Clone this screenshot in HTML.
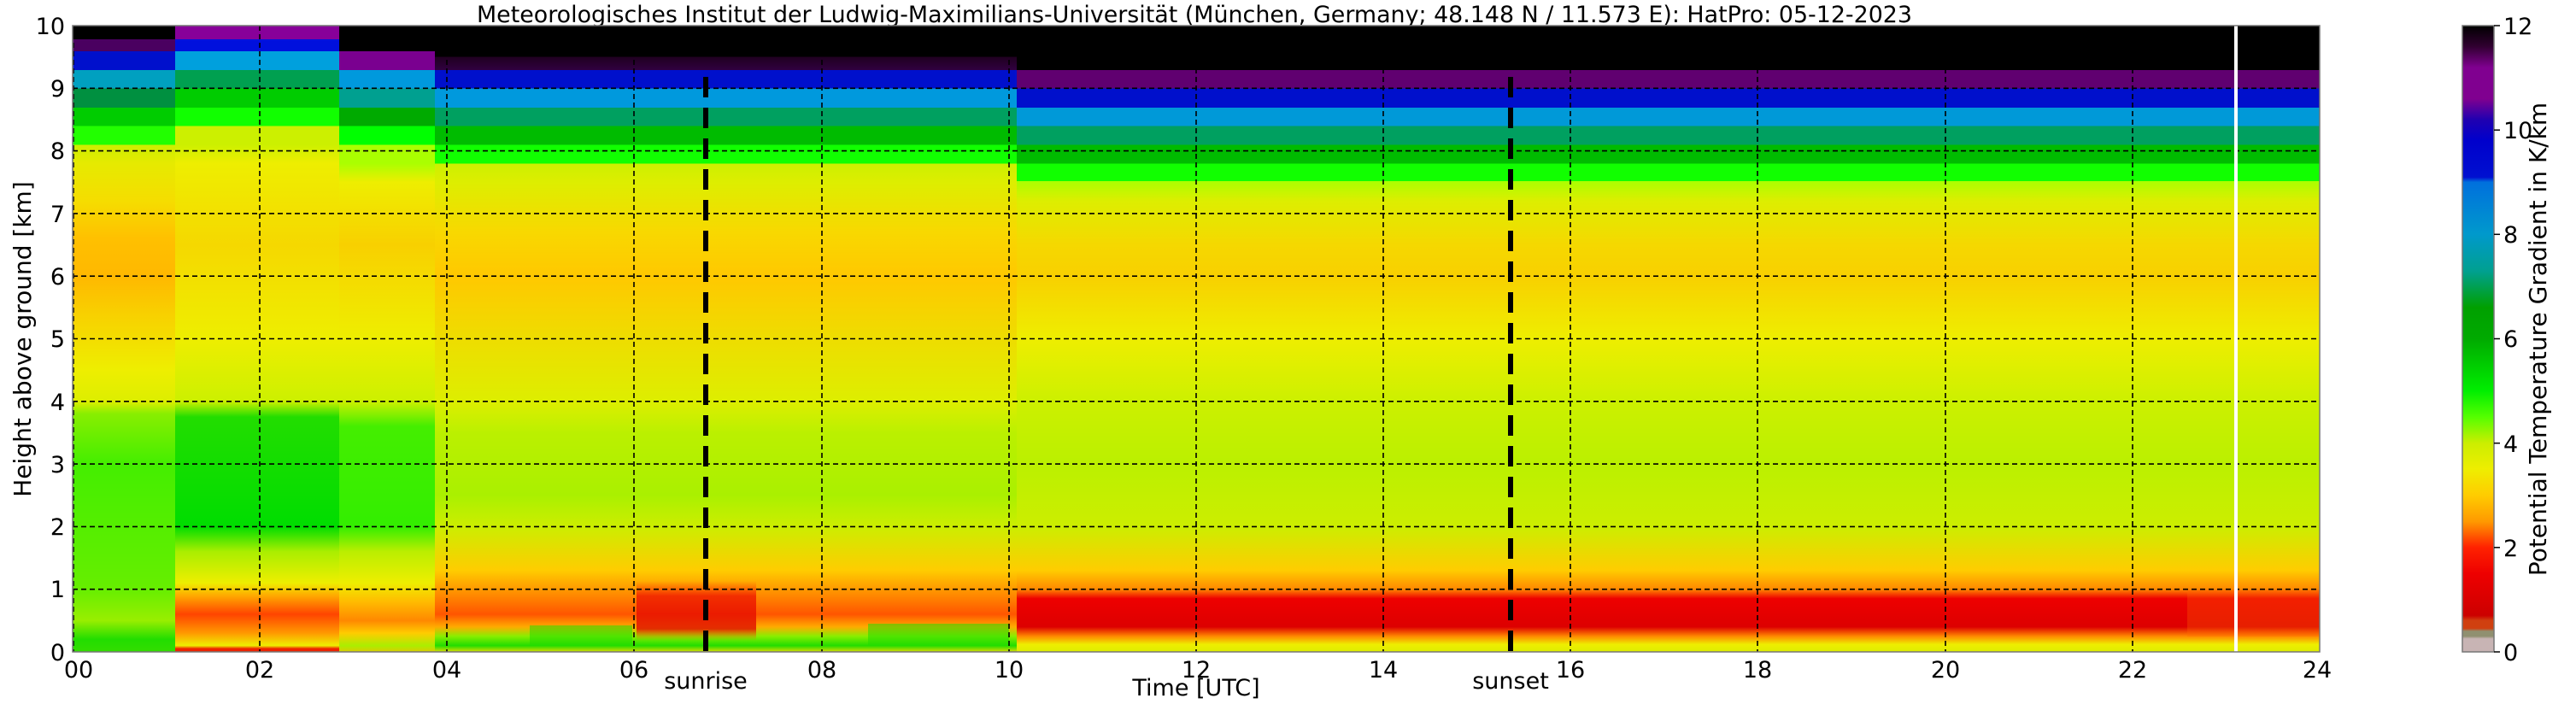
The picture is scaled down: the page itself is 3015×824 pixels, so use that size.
<!DOCTYPE html>
<html><head><meta charset="utf-8"><style>html,body{margin:0;padding:0;background:#fff}svg{display:block}text{font-family:"DejaVu Sans","Liberation Sans",sans-serif;fill:#000}</style></head><body>
<svg width="3015" height="824" viewBox="0 0 3015 824" xmlns="http://www.w3.org/2000/svg">
<defs>
<linearGradient id="gA" x1="0" y1="30" x2="0" y2="763" gradientUnits="userSpaceOnUse">
<stop offset="0" stop-color="#000"/><stop offset=".022" stop-color="#000"/><stop offset=".022" stop-color="#4a0060"/><stop offset=".041" stop-color="#4a0060"/><stop offset=".041" stop-color="#0010cc"/><stop offset=".071" stop-color="#0010cc"/><stop offset=".071" stop-color="#00a0c0"/><stop offset=".1" stop-color="#00a0c0"/><stop offset=".1" stop-color="#009040"/><stop offset=".131" stop-color="#009040"/><stop offset=".131" stop-color="#00cc00"/><stop offset=".16" stop-color="#00cc00"/><stop offset=".16" stop-color="#22ff00"/><stop offset=".19" stop-color="#22ff00"/><stop offset=".19" stop-color="#ccee00"/>
<stop offset=".22" stop-color="#e6ea00"/><stop offset=".28" stop-color="#f5dd00"/><stop offset=".34" stop-color="#ffc000"/><stop offset=".4" stop-color="#ffb800"/><stop offset=".46" stop-color="#f8d000"/><stop offset=".55" stop-color="#eeee00"/><stop offset=".6" stop-color="#ddee00"/><stop offset=".62" stop-color="#88ee00"/><stop offset=".7" stop-color="#44ee00"/><stop offset=".8" stop-color="#55ee00"/><stop offset=".9" stop-color="#66ee00"/><stop offset=".95" stop-color="#99ee00"/><stop offset=".98" stop-color="#22dd00"/><stop offset="1" stop-color="#33dd00"/>
</linearGradient>
<linearGradient id="gB1" x1="0" y1="30" x2="0" y2="763" gradientUnits="userSpaceOnUse">
<stop offset="0" stop-color="#880099"/><stop offset=".022" stop-color="#880099"/><stop offset=".022" stop-color="#0010dd"/><stop offset=".041" stop-color="#0010dd"/><stop offset=".041" stop-color="#00a0dd"/><stop offset=".071" stop-color="#00a0dd"/><stop offset=".071" stop-color="#00a050"/><stop offset=".1" stop-color="#00a050"/><stop offset=".1" stop-color="#00cc00"/><stop offset=".131" stop-color="#00cc00"/><stop offset=".131" stop-color="#11ff00"/><stop offset=".16" stop-color="#11ff00"/><stop offset=".16" stop-color="#ccf000"/><stop offset=".19" stop-color="#ccf000"/>
<stop offset=".22" stop-color="#eeee00"/><stop offset=".35" stop-color="#f5d800"/><stop offset=".5" stop-color="#eeee00"/><stop offset=".6" stop-color="#ccf000"/><stop offset=".625" stop-color="#22dd00"/><stop offset=".8" stop-color="#00dd00"/><stop offset=".84" stop-color="#aaee00"/><stop offset=".89" stop-color="#eeee00"/><stop offset=".91" stop-color="#ffaa00"/><stop offset=".94" stop-color="#ff4400"/><stop offset=".97" stop-color="#ff9900"/><stop offset=".99" stop-color="#eeee00"/><stop offset=".995" stop-color="#ee2200"/><stop offset="1" stop-color="#ee2200"/>
</linearGradient>
<linearGradient id="gB2" x1="0" y1="30" x2="0" y2="763" gradientUnits="userSpaceOnUse">
<stop offset="0" stop-color="#000"/><stop offset=".041" stop-color="#000"/><stop offset=".041" stop-color="#7a0090"/><stop offset=".071" stop-color="#7a0090"/><stop offset=".071" stop-color="#0099dd"/><stop offset=".1" stop-color="#0099dd"/><stop offset=".1" stop-color="#00a090"/><stop offset=".131" stop-color="#00a090"/><stop offset=".131" stop-color="#00aa00"/><stop offset=".16" stop-color="#00aa00"/><stop offset=".16" stop-color="#00ff00"/><stop offset=".19" stop-color="#00ff00"/><stop offset=".19" stop-color="#aaff00"/><stop offset=".22" stop-color="#aaff00"/>
<stop offset=".25" stop-color="#eeee00"/><stop offset=".35" stop-color="#f8d000"/><stop offset=".5" stop-color="#eeee00"/><stop offset=".6" stop-color="#ccf000"/><stop offset=".64" stop-color="#44ee00"/><stop offset=".8" stop-color="#33ee00"/><stop offset=".84" stop-color="#bbee00"/><stop offset=".89" stop-color="#eeee00"/><stop offset=".92" stop-color="#ffbb00"/><stop offset=".95" stop-color="#ff8800"/><stop offset=".97" stop-color="#ffcc00"/><stop offset=".99" stop-color="#aaee00"/><stop offset="1" stop-color="#ddcc00"/>
</linearGradient>
<linearGradient id="gC" x1="0" y1="30" x2="0" y2="763" gradientUnits="userSpaceOnUse">
<stop offset="0" stop-color="#000"/><stop offset=".05" stop-color="#000"/><stop offset=".05" stop-color="#200020"/><stop offset=".071" stop-color="#300040"/><stop offset=".071" stop-color="#0010cc"/><stop offset=".1" stop-color="#0010cc"/><stop offset=".1" stop-color="#0099dd"/><stop offset=".131" stop-color="#0099dd"/><stop offset=".131" stop-color="#00a060"/><stop offset=".16" stop-color="#00a060"/><stop offset=".16" stop-color="#00bb00"/><stop offset=".19" stop-color="#00bb00"/><stop offset=".19" stop-color="#11ff00"/><stop offset=".22" stop-color="#11ff00"/><stop offset=".22" stop-color="#ccf000"/>
<stop offset=".25" stop-color="#ddee00"/><stop offset=".33" stop-color="#f8d800"/><stop offset=".4" stop-color="#ffc800"/><stop offset=".5" stop-color="#eedd00"/><stop offset=".6" stop-color="#ddee00"/><stop offset=".65" stop-color="#bbf000"/><stop offset=".75" stop-color="#aaf000"/><stop offset=".8" stop-color="#ccee00"/><stop offset=".87" stop-color="#ffcc00"/><stop offset=".9" stop-color="#ff9900"/><stop offset=".94" stop-color="#ff5500"/><stop offset=".96" stop-color="#ffaa00"/><stop offset=".975" stop-color="#88ee00"/><stop offset=".99" stop-color="#22dd00"/><stop offset="1" stop-color="#dddd00"/>
</linearGradient>
<linearGradient id="gD" x1="0" y1="30" x2="0" y2="763" gradientUnits="userSpaceOnUse">
<stop offset="0" stop-color="#000"/><stop offset=".071" stop-color="#000"/><stop offset=".071" stop-color="#600070"/><stop offset=".1" stop-color="#600070"/><stop offset=".1" stop-color="#0010cc"/><stop offset=".131" stop-color="#0010cc"/><stop offset=".131" stop-color="#0099d8"/><stop offset=".16" stop-color="#0099d8"/><stop offset=".16" stop-color="#00a060"/><stop offset=".19" stop-color="#00a060"/><stop offset=".19" stop-color="#00bb00"/><stop offset=".22" stop-color="#00bb00"/><stop offset=".22" stop-color="#11ff00"/><stop offset=".248" stop-color="#11ff00"/><stop offset=".248" stop-color="#aaff00"/>
<stop offset=".28" stop-color="#ddee00"/><stop offset=".35" stop-color="#f5d800"/><stop offset=".4" stop-color="#f8d000"/><stop offset=".5" stop-color="#eeee00"/><stop offset=".6" stop-color="#ccf000"/><stop offset=".7" stop-color="#bbf000"/><stop offset=".8" stop-color="#ccee00"/><stop offset=".87" stop-color="#ffcc00"/><stop offset=".9" stop-color="#ff8800"/><stop offset=".915" stop-color="#ee0000"/><stop offset=".96" stop-color="#dd0000"/><stop offset=".975" stop-color="#ff8800"/><stop offset=".988" stop-color="#eeee00"/><stop offset="1" stop-color="#ddee00"/>
</linearGradient>
<linearGradient id="gCB" x1="0" y1="30" x2="0" y2="763" gradientUnits="userSpaceOnUse">
<stop offset="0" stop-color="#000"/><stop offset=".033" stop-color="#300030"/><stop offset=".067" stop-color="#800090"/><stop offset=".117" stop-color="#800090"/><stop offset=".15" stop-color="#2000b0"/><stop offset=".183" stop-color="#0000cc"/><stop offset=".242" stop-color="#0010d0"/><stop offset=".25" stop-color="#0070dd"/><stop offset=".333" stop-color="#0099cc"/><stop offset=".392" stop-color="#00a090"/><stop offset=".45" stop-color="#00a000"/><stop offset=".5" stop-color="#00aa00"/><stop offset=".583" stop-color="#00ee00"/><stop offset=".625" stop-color="#55ff00"/><stop offset=".667" stop-color="#ccee00"/><stop offset=".708" stop-color="#eeee00"/><stop offset=".75" stop-color="#ffcc00"/><stop offset=".792" stop-color="#ff9900"/><stop offset=".833" stop-color="#ff2200"/><stop offset=".875" stop-color="#ee0000"/><stop offset=".942" stop-color="#cc0000"/><stop offset=".95" stop-color="#d04010"/><stop offset=".9625" stop-color="#d04010"/><stop offset=".967" stop-color="#909070"/><stop offset=".975" stop-color="#909070"/><stop offset=".979" stop-color="#c8b4b4"/><stop offset="1" stop-color="#c8b4b4"/>
</linearGradient>
<linearGradient id="gR" x1="0" y1="680" x2="0" y2="750" gradientUnits="userSpaceOnUse">
<stop offset="0" stop-color="#ff3300" stop-opacity="0"/><stop offset=".25" stop-color="#ee1100" stop-opacity=".75"/><stop offset=".8" stop-color="#dd0000" stop-opacity=".75"/><stop offset="1" stop-color="#ff6600" stop-opacity="0"/>
</linearGradient>
</defs>
<text x="1398" y="26" font-size="27" text-anchor="middle" textLength="1680" lengthAdjust="spacingAndGlyphs">Meteorologisches Institut der Ludwig-Maximilians-Universität (München, Germany; 48.148 N / 11.573 E):    HatPro: 05-12-2023</text>
<rect x="85" y="30" width="121" height="733" fill="url(#gA)"/>
<rect x="205" y="30" width="193" height="733" fill="url(#gB1)"/>
<rect x="397" y="30" width="113" height="733" fill="url(#gB2)"/>
<rect x="509" y="30" width="682" height="733" fill="url(#gC)"/>
<rect x="1190" y="30" width="1525" height="733" fill="url(#gD)"/>
<rect x="745" y="680" width="140" height="70" fill="url(#gR)"/>
<rect x="620" y="732" width="120" height="24" fill="#22dd00" opacity="0.55"/>
<rect x="1016" y="730" width="165" height="26" fill="#22dd00" opacity="0.55"/>
<rect x="2560" y="690" width="155" height="55" fill="#ff6600" opacity="0.3"/>
<g stroke="#000" stroke-width="1.6" stroke-dasharray="6,4" fill="none">
<line x1="85" y1="689.7" x2="2715" y2="689.7"/><line x1="85" y1="616.4" x2="2715" y2="616.4"/><line x1="85" y1="543.1" x2="2715" y2="543.1"/><line x1="85" y1="469.8" x2="2715" y2="469.8"/><line x1="85" y1="396.5" x2="2715" y2="396.5"/><line x1="85" y1="323.2" x2="2715" y2="323.2"/><line x1="85" y1="249.9" x2="2715" y2="249.9"/><line x1="85" y1="176.6" x2="2715" y2="176.6"/><line x1="85" y1="103.3" x2="2715" y2="103.3"/>
<line x1="304" y1="30" x2="304" y2="763"/><line x1="523" y1="30" x2="523" y2="763"/><line x1="742" y1="30" x2="742" y2="763"/><line x1="962" y1="30" x2="962" y2="763"/><line x1="1181" y1="30" x2="1181" y2="763"/><line x1="1400" y1="30" x2="1400" y2="763"/><line x1="1619" y1="30" x2="1619" y2="763"/><line x1="1838" y1="30" x2="1838" y2="763"/><line x1="2057" y1="30" x2="2057" y2="763"/><line x1="2277" y1="30" x2="2277" y2="763"/><line x1="2496" y1="30" x2="2496" y2="763"/>
<line x1="86" y1="30" x2="86" y2="763"/>
</g>
<rect x="2615" y="30" width="4" height="733" fill="#fff"/>
<g stroke="#000" stroke-width="6" stroke-dasharray="24,12"><line x1="826" y1="90" x2="826" y2="763"/><line x1="1768" y1="90" x2="1768" y2="763"/></g>
<rect x="85" y="30" width="2630" height="733" fill="none" stroke="#777" stroke-width="1.5"/>
<g font-size="27">
<g text-anchor="end"><text x="76" y="773">0</text><text x="76" y="699">1</text><text x="76" y="626">2</text><text x="76" y="553">3</text><text x="76" y="480">4</text><text x="76" y="406">5</text><text x="76" y="333">6</text><text x="76" y="260">7</text><text x="76" y="186">8</text><text x="76" y="113">9</text><text x="76" y="40">10</text></g>
<g text-anchor="middle"><text x="92" y="793">00</text><text x="304" y="793">02</text><text x="523" y="793">04</text><text x="742" y="793">06</text><text x="962" y="793">08</text><text x="1181" y="793">10</text><text x="1400" y="793">12</text><text x="1619" y="793">14</text><text x="1838" y="793">16</text><text x="2057" y="793">18</text><text x="2277" y="793">20</text><text x="2496" y="793">22</text><text x="2712" y="793">24</text>
<text x="826" y="806">sunrise</text><text x="1768" y="806">sunset</text><text x="1400" y="814">Time [UTC]</text></g>
<text transform="translate(36,397) rotate(-90)" text-anchor="middle" font-size="28">Height above ground [km]</text>
</g>
<rect x="2882" y="30" width="37" height="733" fill="url(#gCB)" stroke="#777" stroke-width="1.5"/>
<g stroke="#000" stroke-width="1.5"><line x1="2919" y1="763" x2="2926" y2="763"/><line x1="2919" y1="640.8" x2="2926" y2="640.8"/><line x1="2919" y1="518.7" x2="2926" y2="518.7"/><line x1="2919" y1="396.5" x2="2926" y2="396.5"/><line x1="2919" y1="274.3" x2="2926" y2="274.3"/><line x1="2919" y1="152.2" x2="2926" y2="152.2"/><line x1="2919" y1="30" x2="2926" y2="30"/></g>
<g font-size="27"><text x="2930" y="773">0</text><text x="2930" y="651">2</text><text x="2930" y="529">4</text><text x="2930" y="406">6</text><text x="2930" y="284">8</text><text x="2930" y="162">10</text><text x="2930" y="40">12</text></g>
<text transform="translate(2980,397) rotate(-90)" text-anchor="middle" font-size="28">Potential Temperature Gradient in K/km</text>
</svg>
</body></html>
